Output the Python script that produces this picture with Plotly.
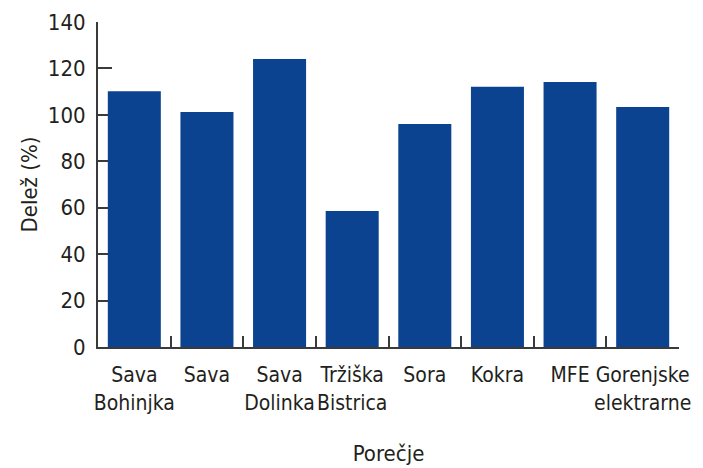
import plotly.graph_objects as go

categories = ["Sava<br>Bohinjka", "Sava", "Sava<br>Dolinka", "Tržiška<br>Bistrica",
              "Sora", "Kokra", "MFE", "Gorenjske<br>elektrarne"]
values = [110.2, 101.2, 124.1, 58.6, 96.1, 112.1, 114.2, 103.4]
y_ticks = [0, 20, 40, 60, 80, 100, 120, 140]

bar_color = "#0b4390"
axis_color = "#3a3a3a"
text_color = "#231f20"
font_family = "'Liberation Sans Narrow', 'DejaVu Sans Condensed', Roboto, sans-serif"

fig = go.Figure(go.Bar(x=categories, y=values, marker_color=bar_color,
                       marker_line_width=0))

fig.update_layout(
    width=695, height=460,
    margin=dict(l=90, r=24, t=14, b=121, autoexpand=False),
    plot_bgcolor="white", paper_bgcolor="white",
    bargap=0.27,
    showlegend=False,
    font=dict(family=font_family, size=22, color=text_color),
)

fig.update_xaxes(
    automargin=False, tickangle=0,
    showline=True, linecolor=axis_color, linewidth=2,
    ticks="inside", tickson="boundaries", ticklen=11, tickwidth=2, tickcolor=axis_color,
    showgrid=False, layer="below traces",
    tickfont=dict(size=21, color=text_color),
    ticklabelstandoff=8,
    title=dict(text="Porečje", font=dict(size=22, color=text_color), standoff=32),
)
fig.update_yaxes(
    automargin=False,
    range=[0, 140], tickvals=y_ticks,
    showline=True, linecolor=axis_color, linewidth=2,
    ticks="inside", ticklen=14, tickwidth=2, tickcolor=axis_color,
    showgrid=False, zeroline=False, layer="below traces",
    tickfont=dict(size=22, color=text_color),
    ticklabelstandoff=6,
    title=dict(text="Delež (%)", font=dict(size=22, color=text_color), standoff=4),
)

fig.write_html("out.html")
